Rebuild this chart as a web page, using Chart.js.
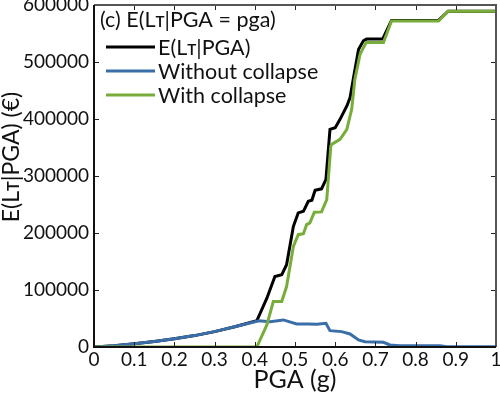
<!DOCTYPE html>
<html>
<head>
<meta charset="utf-8">
<script src="https://cdn.jsdelivr.net/npm/chart.js@4"></script>
<style>
  html, body { margin: 0; padding: 0; background: #fff; }
  #wrap { width: 500px; height: 395px; }
</style>
</head>
<body>
<div id="wrap"><canvas id="chart" width="500" height="395"></canvas></div>
<script>
// values
const totalPga = [0, 0.05, 0.1, 0.15, 0.2, 0.25, 0.3, 0.35, 0.405, 0.43, 0.45, 0.467, 0.479, 0.496, 0.508, 0.521, 0.533, 0.542, 0.55, 0.566, 0.577, 0.587, 0.6, 0.612, 0.629, 0.637, 0.645, 0.658, 0.67, 0.678, 0.718, 0.74, 0.857, 0.881, 1];
const totalLoss = [0, 2000, 5500, 9500, 14500, 20000, 27000, 35500, 46000, 85700, 123700, 126700, 144300, 211700, 235300, 238100, 255700, 257400, 275000, 277500, 293900, 381800, 384800, 399400, 422800, 437600, 470000, 522000, 537200, 540200, 540200, 573000, 573000, 589000, 589000];

const noCollapsePga = [0, 0.05, 0.1, 0.15, 0.2, 0.25, 0.3, 0.35, 0.41, 0.438, 0.471, 0.504, 0.533, 0.554, 0.577, 0.587, 0.616, 0.637, 0.658, 0.674, 0.72, 0.736, 0.761, 0.861, 0.877, 1];
const noCollapseLoss = [0, 2000, 5500, 9500, 14500, 20000, 27000, 35500, 46000, 44500, 47500, 40500, 40500, 40000, 41700, 28700, 27000, 22900, 12300, 9300, 8300, 3500, 2300, 2300, 500, 500];

const collapsePga = [0, 0.405, 0.43, 0.446, 0.467, 0.479, 0.496, 0.508, 0.521, 0.529, 0.537, 0.548, 0.566, 0.579, 0.589, 0.591, 0.612, 0.629, 0.641, 0.649, 0.662, 0.677, 0.72, 0.74, 0.857, 0.881, 1];
const collapseLoss = [0, 0, 38700, 79700, 79700, 106100, 176500, 197100, 198800, 214700, 217700, 236300, 237000, 258700, 352400, 355400, 364200, 381800, 417000, 470000, 514000, 534000, 534000, 572000, 572000, 589000, 589000];

const legendTitle = '(c) E(Lᴛ|PGA = pga)';
const seriesNames = ['E(Lᴛ|PGA)', 'Without collapse', 'With collapse'];
const yTitle = 'E(Lᴛ|PGA) (€)';
const FONT = 'Lato, "DejaVu Sans", sans-serif';

const toPoints = (xs, ys) => xs.map((x, i) => ({ x: x, y: ys[i] }));

// frame + inward ticks, like the original figure
const framePlugin = {
  id: 'frame',
  afterDraw(chart) {
    const { ctx, chartArea: a, scales } = chart;
    ctx.save();
    ctx.strokeStyle = '#222';
    ctx.lineWidth = 1;
    scales.x.ticks.forEach(t => {
      const px = Math.round(scales.x.getPixelForValue(t.value)) + 0.5;
      ctx.beginPath();
      ctx.moveTo(px, a.bottom); ctx.lineTo(px, a.bottom - 5);
      ctx.moveTo(px, a.top); ctx.lineTo(px, a.top + 5);
      ctx.stroke();
    });
    scales.y.ticks.forEach(t => {
      const py = Math.round(scales.y.getPixelForValue(t.value)) + 0.5;
      ctx.beginPath();
      ctx.moveTo(a.left, py); ctx.lineTo(a.left + 5, py);
      ctx.moveTo(a.right, py); ctx.lineTo(a.right - 5, py);
      ctx.stroke();
    });
    ctx.lineWidth = 2;
    ctx.strokeStyle = '#555';
    ctx.beginPath();
    ctx.moveTo(a.left, a.top); ctx.lineTo(a.right, a.top); ctx.lineTo(a.right, a.bottom);
    ctx.stroke();
    ctx.strokeStyle = '#111';
    ctx.beginPath();
    ctx.moveTo(a.left, a.top); ctx.lineTo(a.left, a.bottom); ctx.lineTo(a.right, a.bottom);
    ctx.stroke();

    // y axis title (sits a bit above the axis centre in the original)
    ctx.fillStyle = '#111';
    ctx.font = '23px ' + FONT;
    ctx.textAlign = 'center';
    ctx.textBaseline = 'middle';
    ctx.save();
    ctx.translate(12, 157);
    ctx.rotate(-Math.PI / 2);
    ctx.fillText(yTitle, 0, 0);
    ctx.restore();

    // legend inside the plot, top-left
    ctx.font = '21.5px ' + FONT;
    ctx.textAlign = 'left';
    ctx.fillText(legendTitle, a.left + 6, a.top + 15);
    chart.data.datasets.forEach((ds, i) => {
      const y = a.top + 42 + i * 24;
      ctx.strokeStyle = ds.borderColor;
      ctx.lineWidth = 3;
      ctx.beginPath();
      ctx.moveTo(a.left + 12, y); ctx.lineTo(a.left + 61, y);
      ctx.stroke();
      ctx.fillStyle = '#111';
      ctx.fillText(ds.label, a.left + 64, y + 1);
    });
    ctx.restore();
  }
};

new Chart(document.getElementById('chart'), {
  type: 'line',
  data: {
    datasets: [
      { label: seriesNames[0], data: toPoints(totalPga, totalLoss), borderColor: '#000000', order: 3 },
      { label: seriesNames[1], data: toPoints(noCollapsePga, noCollapseLoss), borderColor: '#3a6ea8', order: 2 },
      { label: seriesNames[2], data: toPoints(collapsePga, collapseLoss), borderColor: '#78ad3a', order: 1 },
    ],
  },
  options: {
    responsive: false,
    animation: false,
    layout: { padding: { top: 5, right: 4, left: 0, bottom: 0 } },
    elements: {
      point: { radius: 0 },
      line: { borderWidth: 3, tension: 0, fill: false },
    },
    plugins: { legend: { display: false }, tooltip: { enabled: false } },
    scales: {
      x: {
        type: 'linear', min: 0, max: 1,
        ticks: { stepSize: 0.1, color: '#111', font: { family: FONT, size: 19 }, padding: 1, maxRotation: 0,
                 callback: v => String(Math.round(v * 10) / 10) },
        grid: { display: false, drawTicks: false },
        border: { display: false },
        title: { display: true, text: 'PGA (g)', color: '#111', font: { family: FONT, size: 25 }, padding: { top: -2, bottom: 0 } },
        afterFit(scale) { scale.height = 48; scale.paddingLeft = 0; scale.paddingRight = 0; },
      },
      y: {
        min: 0, max: 600000,
        ticks: { stepSize: 100000, color: '#111', font: { family: FONT, size: 19 }, padding: 5, callback: v => String(v) },
        grid: { display: false, drawTicks: false },
        border: { display: false },
        title: { display: false },
        afterFit(scale) { scale.width = 94; scale.paddingTop = 0; scale.paddingBottom = 0; },
      },
    },
  },
  plugins: [framePlugin],
});
</script>
</body>
</html>
